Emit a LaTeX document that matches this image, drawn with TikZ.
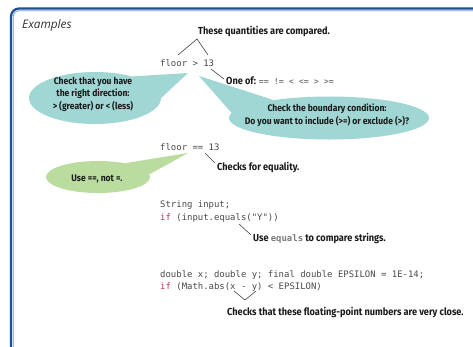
\documentclass[tikz,border=0pt]{standalone}
\usepackage{fontspec}
\usetikzlibrary{shapes.geometric}
\newfontfamily\handfont{Fira Sans}[FakeStretch=0.9]
\newfontfamily\codefont{DejaVu Sans Mono}
\newfontfamily\exfont{Open Sans}
\definecolor{frameblue}{HTML}{1D4F91}
\definecolor{framelight}{HTML}{6F9BD1}
\definecolor{bubbleblue}{HTML}{A0D7D4}
\definecolor{bubblegreen}{HTML}{BADC9F}
\definecolor{codegray}{HTML}{4A4A4A}
\definecolor{opgray}{HTML}{7A7A7A}
\definecolor{kwred}{HTML}{C2306A}
\definecolor{linegray}{HTML}{444444}
\definecolor{labelblack}{HTML}{1A1A1A}
\tikzset{
  lbl/.style={anchor=base west, inner sep=0pt, font=\handfont\bfseries\fontsize{10.2}{12}\selectfont, text=labelblack},
  code/.style={anchor=base west, inner sep=0pt, font=\codefont\fontsize{8.95}{10}\selectfont, text=codegray},
  bubble/.style={ellipse, draw=none, inner sep=0pt},
  btext/.style={inner sep=0pt, align=center, text=labelblack, font=\handfont\bfseries\fontsize{9.5}{12.5}\selectfont},
  conn/.style={draw=linegray, line width=0.6pt},
}
\begin{document}
\begin{tikzpicture}[x=1pt,y=-1pt]
\useasboundingbox (0,0) rectangle (473,346);
\clip (0,0) rectangle (473,346);
\fill[white] (0,0) rectangle (473,346);
% frame
\draw[frameblue, line width=2.2pt, rounded corners=8pt] (11,360) -- (11,8.5) -- (490,8.5);
\draw[framelight, line width=0.8pt, rounded corners=6pt] (13.2,360) -- (13.2,10.7) -- (490,10.7);

\node[anchor=base west, inner sep=0pt, font=\exfont\itshape\fontsize{11.8}{13}\selectfont, text=black!80] (ex) at (22,28) {Examples};

% bubbles
\node[bubble, minimum width=132pt, minimum height=52pt] (e1) at (95,98) {};
\node[bubble, minimum width=200pt, minimum height=43pt] (e2) at (329,118) {};
\node[bubble, minimum width=104pt, minimum height=32pt] (e3) at (98,177) {};
\coordinate (tip1) at (188,73);
\coordinate (tip2) at (199,76);
\coordinate (tip3) at (188,153);
\fill[bubbleblue] (tip1) -- (e1.0) -- (e1.30) -- cycle;
\fill[bubbleblue] (tip2) -- (e2.177) -- (e2.162) -- cycle;
\fill[bubblegreen] (tip3) -- (e3.3) -- (e3.27) -- cycle;
\fill[bubbleblue] (e1.center) ellipse [x radius=66, y radius=26];
\fill[bubbleblue] (e2.center) ellipse [x radius=100, y radius=21.5];
\fill[bubblegreen] (e3.center) ellipse [x radius=52, y radius=16];
\node[btext] (t1) at (93,94) {Check that you have\\the right direction:\\> (greater) or < (less)};
\node[btext] (t2) at (327,115) {Check the boundary condition:\\Do you want to include (>=) or exclude (>)?};
\node[btext] (t3) at (97,179) {Use ==, not =.};

% example 1
\node[lbl] (q) at (198,34.5) {These quantities are compared.};
\node[code] (f1) at (160,66) {floor > 13};
\coordinate (c1a) at (178,55);
\coordinate (c1b) at (197,39);
\coordinate (c1c) at (208,55);
\draw[conn] (c1a) -- (c1b) -- (c1c);
\node[lbl] (one) at (226,84.5) {One of: {\codefont\fontsize{8.3}{10}\selectfont\color{opgray}== != < <= > >=}};
\coordinate (o1) at (211,69);
\coordinate (o2) at (224,79);
\draw[conn] (o1) -- (o2);

% example 2
\node[code] (f2) at (160,150) {floor == 13};
\node[lbl] (eq) at (217,170.5) {Checks for equality.};
\coordinate (q1) at (205,153);
\coordinate (q2) at (215,163);
\draw[conn] (q1) -- (q2);

% example 3
\node[code] (s1) at (160,207) {String input;};
\node[code] (s2) at (160,220) {{\color{kwred}if} (input.equals("Y"))};
\node[lbl] (us) at (253,241.5) {Use {\codefont\fontsize{8.95}{10}\selectfont\color{opgray}equals} to compare strings.};
\coordinate (u1) at (239,224);
\coordinate (u2) at (251,235);
\draw[conn] (u1) -- (u2);

% example 4
\node[code] (d1) at (160,277) {double x; double y; final double EPSILON = 1E-14;};
\node[code] (d2) at (160,289) {{\color{kwred}if} (Math.abs(x - y) < EPSILON)};
\coordinate (v1) at (234,291);
\coordinate (v2) at (245,300);
\coordinate (v3) at (256,291);
\draw[conn] (v1) -- (v2) -- (v3);
\node[lbl] (cl) at (227,315.5) {Checks that these floating-point numbers are very close.};
\end{tikzpicture}
\end{document}
